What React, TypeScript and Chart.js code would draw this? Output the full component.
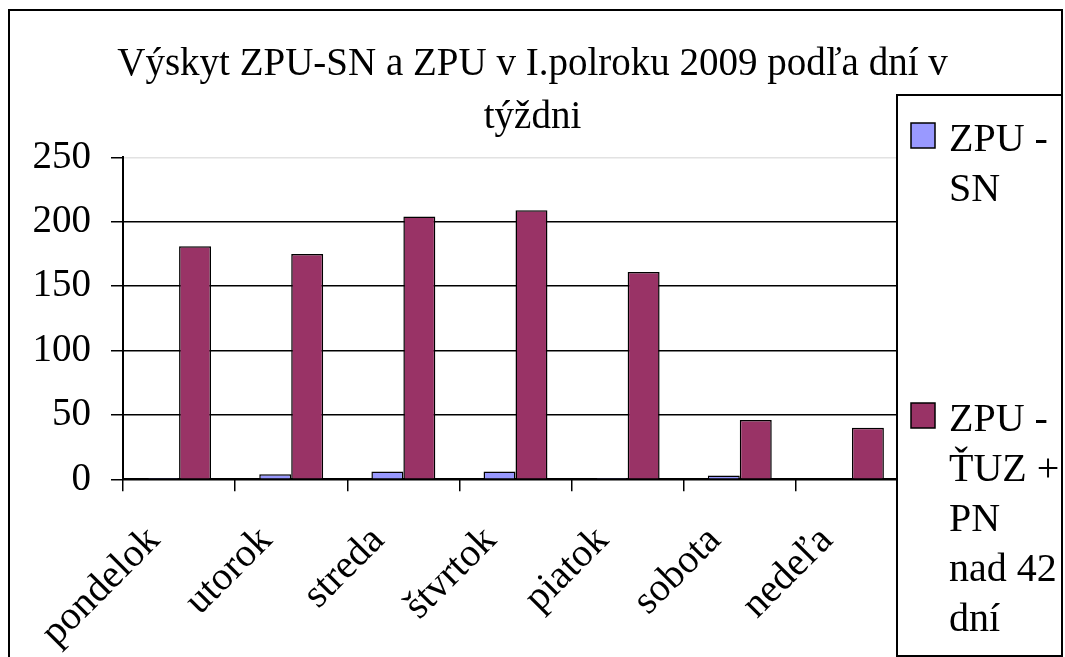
import { useEffect, useRef } from 'react';
import { Chart, registerables } from 'chart.js';

Chart.register(...registerables);

const FONT = "'Liberation Serif', 'Times New Roman', serif";

const titleLines = ['Výskyt ZPU-SN a ZPU v I.polroku 2009 podľa dní v', 'týždni'];
const categories = ['pondelok', 'utorok', 'streda', 'štvrtok', 'piatok', 'sobota', 'nedeľa'];
const seriesSN = [1, 4, 6, 6, 1, 3, 0];
const seriesTUZ = [181, 175, 204, 209, 161, 46, 40];
const legendLinesSN = ['ZPU -', 'SN'];
const legendLinesTUZ = ['ZPU -', 'ŤUZ +', 'PN', 'nad 42', 'dní'];
const yMin = 0;
const yMax = 250;
const yStep = 50;

const legendPlugin = {
  id: 'boxLegend',
  afterDraw(chart: any) {
    const ctx = chart.ctx as CanvasRenderingContext2D;
    ctx.save();
    ctx.lineWidth = 2;
    ctx.strokeStyle = '#000';
    ctx.strokeRect(9, 10, 1053, 720);
    ctx.fillStyle = '#fff';
    ctx.fillRect(897, 95, 165, 561);
    ctx.strokeRect(897, 95, 165, 561);
    const tops = [123, 403];
    const lineSets = [legendLinesSN, legendLinesTUZ];
    ctx.font = `40px ${FONT}`;
    ctx.textBaseline = 'alphabetic';
    ctx.textAlign = 'left';
    chart.data.datasets.forEach((ds: any, i: number) => {
      const top = tops[i];
      ctx.fillStyle = ds.backgroundColor;
      ctx.fillRect(911, top, 24, 25);
      ctx.lineWidth = 1.5;
      ctx.strokeStyle = '#000';
      ctx.strokeRect(911, top, 24, 25);
      ctx.fillStyle = '#000';
      lineSets[i].forEach((ln, j) => {
        ctx.fillText(ln, 949, top + 28 + j * 50);
      });
    });
    ctx.restore();
  },
};

export default function App() {
  const ref = useRef<HTMLCanvasElement>(null);
  useEffect(() => {
    document.body.style.margin = '0';
    const chart = new Chart(ref.current as HTMLCanvasElement, {
      type: 'bar',
      data: {
        labels: categories,
        datasets: [
          {
            label: legendLinesSN.join(' '),
            data: seriesSN,
            backgroundColor: '#9999FF',
            borderColor: '#000',
            borderWidth: 1.5,
            categoryPercentage: 0.57,
            barPercentage: 1,
          },
          {
            label: legendLinesTUZ.join(' '),
            data: seriesTUZ,
            backgroundColor: '#993366',
            borderColor: '#000',
            borderWidth: 1.5,
            categoryPercentage: 0.57,
            barPercentage: 1,
          },
        ],
      },
      options: {
        responsive: false,
        animation: false,
        devicePixelRatio: 1,
        layout: { padding: 0 },
        plugins: {
          legend: { display: false },
          tooltip: { enabled: false },
          title: {
            display: true,
            text: titleLines,
            color: '#000',
            font: { family: FONT, size: 39, weight: 'normal', lineHeight: 1.36 },
            padding: { top: 38.5, bottom: 12.8 },
          },
        },
        scales: {
          x: {
            grid: {
              display: true,
              drawOnChartArea: false,
              drawTicks: true,
              tickLength: 12,
              color: '#000',
              lineWidth: 1.5,
              offset: true,
            },
            border: { display: true, color: '#000', width: 2 },
            ticks: {
              color: '#000',
              font: { family: FONT, size: 40 },
              minRotation: 45,
              maxRotation: 45,
              autoSkip: false,
              padding: 26,
              labelOffset: -25,
            },
            afterFit: (s: any) => {
              s.height = 177.7;
            },
          },
          y: {
            min: yMin,
            max: yMax,
            grid: {
              color: (c: any) => (c.tick && c.tick.value === yMax ? '#e2e2e2' : '#000'),
              tickColor: '#000',
              lineWidth: 1.5,
              tickLength: 12,
              drawTicks: true,
            },
            border: { display: true, color: '#000', width: 2 },
            ticks: {
              stepSize: yStep,
              color: '#000',
              font: { family: FONT, size: 39 },
              padding: 20,
            },
            afterFit: (s: any) => {
              s.width = 123;
            },
          },
          yRight: {
            type: 'linear',
            position: 'right',
            display: true,
            grid: { display: false },
            border: { display: false },
            ticks: { display: false },
            afterFit: (s: any) => {
              s.width = 157;
            },
          },
        },
      },
      plugins: [legendPlugin],
    } as any);
    return () => chart.destroy();
  }, []);
  return (
    <div style={{ width: 1065, height: 657 }}>
      <canvas ref={ref} width={1065} height={657} style={{ display: 'block' }} />
    </div>
  );
}
